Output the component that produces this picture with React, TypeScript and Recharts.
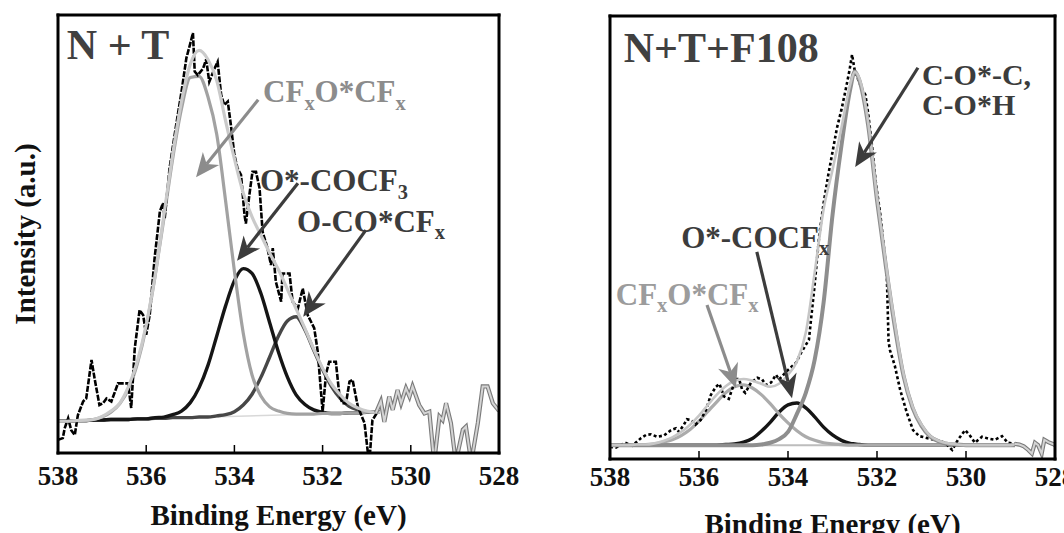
import React from 'react';
import { LineChart, Line, XAxis, YAxis, ReferenceLine, ReferenceDot } from 'recharts';

const SERIF = "'Liberation Serif', 'Times New Roman', Times, serif";

// axis ticks
const energyTicks = [538, 536, 534, 532, 530, 528];
const intensityTicks = [1, 2, 3, 4, 5, 6, 7];

// ---------- N + T (left panel) ----------
const ntFitE = [538, 537.8, 537.6, 537.4, 537.2, 537, 536.8, 536.6, 536.4, 536.2, 536, 535.8, 535.6, 535.4, 535.2, 535, 534.8, 534.6, 534.4, 534.2, 534, 533.8, 533.6, 533.4, 533.2, 533, 532.8, 532.6, 532.4, 532.2, 532, 531.8, 531.6, 531.4, 531.2, 531, 530.8, 530.7];
const ntEnvelope = [1.28, 1.28, 1.29, 1.3, 1.31, 1.36, 1.45, 1.58, 1.86, 2.28, 2.88, 3.7, 4.7, 5.72, 6.6, 7.22, 7.45, 7.3, 6.95, 6.28, 5.65, 5.08, 4.68, 4.38, 4.08, 3.8, 3.48, 3.15, 2.82, 2.48, 2.16, 1.9, 1.72, 1.58, 1.5, 1.45, 1.43, 1.43];
const ntCFxOCFx = [1.28, 1.28, 1.29, 1.29, 1.31, 1.35, 1.43, 1.57, 1.82, 2.24, 2.85, 3.69, 4.65, 5.65, 6.48, 7.0, 7.02, 6.68, 6.05, 4.95, 3.78, 2.75, 2.05, 1.7, 1.52, 1.45, 1.41, 1.4, 1.4, 1.4, 1.41, 1.41, 1.41, 1.42, 1.42, 1.43, 1.43, 1.43];
const ntOCOCF3 = [1.28, 1.28, 1.29, 1.29, 1.3, 1.3, 1.31, 1.31, 1.31, 1.32, 1.32, 1.34, 1.35, 1.39, 1.45, 1.59, 1.84, 2.21, 2.7, 3.2, 3.62, 3.82, 3.74, 3.41, 2.92, 2.43, 2.02, 1.72, 1.56, 1.47, 1.43, 1.41, 1.41, 1.42, 1.42, 1.43, 1.43, 1.43];
const ntOCOCFx = [1.28, 1.28, 1.29, 1.29, 1.3, 1.3, 1.31, 1.31, 1.31, 1.32, 1.32, 1.33, 1.33, 1.34, 1.34, 1.34, 1.35, 1.35, 1.37, 1.39, 1.44, 1.55, 1.73, 2.01, 2.35, 2.7, 2.95, 3.02, 2.8, 2.46, 2.14, 1.86, 1.66, 1.53, 1.47, 1.44, 1.43, 1.43];
const ntBaseE = [538, 530.7];
const ntBaseV = [1.28, 1.43];
const ntRawE = [538.0, 537.89, 537.85, 537.77, 537.7, 537.62, 537.55, 537.43, 537.36, 537.24, 537.17, 537.06, 536.98, 536.9, 536.79, 536.64, 536.53, 536.41, 536.34, 536.26, 536.15, 536.07, 536.0, 535.92, 535.81, 535.69, 535.62, 535.58, 535.47, 535.32, 535.2, 535.09, 535.01, 534.94, 534.9, 534.83, 534.71, 534.64, 534.57, 534.45, 534.38, 534.3, 534.23, 534.15, 534.08, 534.0, 533.93, 533.85, 533.77, 533.74, 533.66, 533.59, 533.51, 533.43, 533.36, 533.25, 533.17, 533.13, 533.06, 532.94, 532.91, 532.75, 532.68, 532.56, 532.45, 532.34, 532.19, 532.11, 532.0, 531.92, 531.85, 531.7, 531.62, 531.55, 531.47, 531.39, 531.32, 531.2, 531.05, 530.98, 530.94, 530.87, 530.75];
const ntRawV = [0.97, 1.0, 1.16, 1.33, 1.13, 1.05, 1.38, 1.61, 1.66, 2.3, 1.99, 1.55, 1.58, 1.66, 1.61, 1.91, 1.91, 1.91, 1.5, 2.49, 3.13, 3.05, 2.72, 3.05, 3.99, 4.77, 4.91, 4.66, 5.49, 6.21, 6.76, 7.32, 7.54, 7.74, 7.1, 7.04, 7.15, 7.3, 6.93, 7.15, 7.26, 6.71, 6.54, 6.6, 6.21, 5.71, 5.49, 5.38, 4.71, 4.57, 5.05, 5.43, 5.43, 5.16, 4.43, 4.16, 3.88, 4.16, 3.6, 3.27, 3.74, 3.74, 3.27, 3.16, 3.49, 3.05, 2.83, 2.44, 1.44, 2.08, 2.27, 2.27, 1.72, 1.58, 1.58, 1.94, 1.97, 1.52, 1.25, 0.8, 0.6, 1.3, 1.44];
const ntTailE = [530.79, 530.68, 530.6, 530.49, 530.41, 530.3, 530.22, 530.11, 530.03, 529.96, 529.81, 529.69, 529.58, 529.47, 529.35, 529.28, 529.2, 529.09, 528.98, 528.82, 528.75, 528.63, 528.48, 528.37, 528.26, 528.14, 528.05, 528.0];
const ntTailV = [1.42, 1.61, 1.27, 1.69, 1.47, 1.8, 1.58, 1.83, 1.69, 1.86, 1.55, 1.41, 1.44, 0.6, 1.36, 1.3, 1.58, 1.25, 0.6, 1.14, 1.19, 0.6, 1.25, 1.86, 1.86, 1.58, 1.5, 1.45];

// ---------- N+T+F108 (right panel) ----------
const ntfFitE = [538, 537.8, 537.6, 537.4, 537.2, 537, 536.8, 536.6, 536.4, 536.2, 536, 535.8, 535.6, 535.4, 535.2, 535, 534.8, 534.6, 534.4, 534.2, 534, 533.8, 533.6, 533.4, 533.2, 533, 532.8, 532.6, 532.5, 532.4, 532.2, 532, 531.8, 531.6, 531.4, 531.2, 531, 530.8, 530.6, 530.4, 530.2, 530, 529, 528.9];
const ntfEnvelope = [0.88, 0.88, 0.88, 0.89, 0.89, 0.91, 0.95, 1.01, 1.1, 1.22, 1.37, 1.55, 1.72, 1.86, 1.95, 1.98, 1.95, 1.9, 1.85, 1.9, 2.05, 2.27, 2.75, 3.75, 4.8, 5.45, 6.15, 6.88, 7.08, 6.98, 6.25, 5.0, 3.9, 2.9, 2.05, 1.52, 1.22, 1.03, 0.95, 0.91, 0.89, 0.88, 0.88, 0.9];
const ntfCOC = [0.88, 0.88, 0.88, 0.88, 0.88, 0.88, 0.88, 0.88, 0.88, 0.88, 0.88, 0.88, 0.88, 0.88, 0.88, 0.88, 0.88, 0.89, 0.92, 0.98, 1.1, 1.4, 1.75, 2.3, 3.25, 4.7, 5.85, 6.8, 7.09, 6.95, 6.2, 4.95, 3.85, 2.85, 2.02, 1.5, 1.2, 1.02, 0.94, 0.9, 0.89, 0.88, 0.88, 0.88];
const ntfCFxOCFx = [0.88, 0.88, 0.88, 0.88, 0.89, 0.9, 0.93, 0.97, 1.04, 1.14, 1.28, 1.44, 1.6, 1.75, 1.85, 1.88, 1.83, 1.72, 1.57, 1.4, 1.25, 1.12, 1.02, 0.96, 0.92, 0.9, 0.89, 0.88, 0.88, 0.88, 0.88, 0.88, 0.88, 0.88, 0.88, 0.88, 0.88, 0.88, 0.88, 0.88, 0.88, 0.88, 0.88, 0.88];
const ntfOCOCFx = [0.88, 0.88, 0.88, 0.88, 0.88, 0.88, 0.88, 0.88, 0.88, 0.88, 0.88, 0.88, 0.88, 0.89, 0.9, 0.93, 0.99, 1.11, 1.26, 1.43, 1.55, 1.58, 1.5, 1.35, 1.18, 1.05, 0.96, 0.91, 0.9, 0.89, 0.88, 0.88, 0.88, 0.88, 0.88, 0.88, 0.88, 0.88, 0.88, 0.88, 0.88, 0.88, 0.88, 0.88];
const ntfBaseE = [538, 529];
const ntfBaseV = [0.88, 0.88];
const ntfRawE = [538.0, 537.87, 537.66, 537.5, 537.3, 537.19, 537.08, 536.94, 536.79, 536.63, 536.52, 536.45, 536.34, 536.27, 536.16, 536.08, 535.96, 535.84, 535.73, 535.62, 535.54, 535.44, 535.33, 535.26, 535.17, 535.1, 535.03, 534.96, 534.83, 534.69, 534.58, 534.5, 534.38, 534.27, 534.2, 534.04, 533.82, 533.71, 533.53, 533.4, 533.3, 533.2, 533.1, 533.0, 532.9, 532.8, 532.7, 532.62, 532.56, 532.5, 532.42, 532.34, 532.26, 532.2, 532.11, 532.02, 531.93, 531.85, 531.78, 531.74, 531.71, 531.6, 531.48, 531.33, 531.19, 531.05, 530.99, 530.77, 530.6, 530.47, 530.31, 530.18, 530.02, 529.92, 529.8, 529.64, 529.5, 529.35, 529.19, 529.06, 528.9];
const ntfRawV = [0.85, 0.84, 0.92, 0.87, 1.0, 1.05, 1.06, 1.02, 1.04, 1.13, 1.16, 1.1, 1.22, 1.31, 1.29, 1.22, 1.3, 1.47, 1.72, 1.85, 1.9, 1.69, 1.65, 1.8, 1.98, 1.98, 1.8, 1.75, 1.92, 2.0, 1.97, 1.88, 1.92, 2.05, 1.97, 2.1, 2.25, 2.41, 2.63, 3.55, 4.35, 4.9, 5.35, 5.75, 6.15, 6.45, 6.8, 7.1, 7.37, 7.1, 6.95, 6.8, 6.7, 6.4, 5.84, 5.2, 4.74, 4.2, 3.72, 2.6, 2.46, 2.2, 1.8, 1.42, 1.13, 1.03, 1.02, 0.98, 0.95, 0.92, 0.8, 0.97, 1.13, 1.05, 0.92, 1.02, 0.99, 0.97, 1.03, 0.92, 0.9];
const ntfTailE = [528.9, 528.8, 528.7, 528.6, 528.52, 528.45, 528.38, 528.3, 528.24, 528.15, 528.05, 528.0];
const ntfTailV = [0.9, 0.89, 0.86, 0.8, 0.74, 0.92, 0.88, 0.74, 0.97, 0.93, 0.9, 0.88];

const toPoints = (xs: number[], ys: number[]) => xs.map((E, i) => ({ E, v: ys[i] }));

type Part = { t: string; sub?: boolean };
type Curve = { id: string; E: number[]; v: number[]; color: string; w: number; dash?: string; smooth?: boolean };
type Note = { E: number; v: number; parts: Part[]; color: string; size: number };
type Arrow = { from: number[]; to: number[]; color: string };

const noteShape = (n: Note) => (p: any) => {
  let low = false;
  const shift = n.size * 0.24;
  return (
    <text x={p.cx} y={p.cy} fill={n.color} fontFamily={SERIF} fontWeight={700} fontSize={n.size}>
      {n.parts.map((part, i) => {
        const dy = part.sub ? (low ? 0 : shift) : low ? -shift : 0;
        low = !!part.sub;
        return (
          <tspan key={i} dy={dy} fontSize={part.sub ? n.size * 0.66 : n.size}>
            {part.t}
          </tspan>
        );
      })}
    </text>
  );
};

const arrowShape = (color: string) => (p: any) => {
  const { x1, y1, x2, y2 } = p;
  const len = Math.hypot(x2 - x1, y2 - y1) || 1;
  const ux = (x2 - x1) / len;
  const uy = (y2 - y1) / len;
  const head = 24;
  const half = 10.5;
  const notch = 17;
  const bx = x2 - ux * head;
  const by = y2 - uy * head;
  const nx = x2 - ux * notch;
  const ny = y2 - uy * notch;
  return (
    <g>
      <line x1={x1} y1={y1} x2={nx} y2={ny} stroke={color} strokeWidth={3.2} />
      <polygon
        points={`${x2},${y2} ${bx - uy * half},${by + ux * half} ${nx},${ny} ${bx + uy * half},${by - ux * half}`}
        fill={color}
      />
    </g>
  );
};

interface PanelProps {
  left: number;
  plotLeft: number;
  rightGap: number;
  top: number;
  axisH: number;
  yDomain: number[];
  curves: Curve[];
  notes: Note[];
  arrows: Arrow[];
  yLabel?: string;
  tickMargin: number;
  xLabelOffset: number;
}

const frame = { stroke: '#000', strokeWidth: 3, strokeLinecap: 'square' as const };
const tickStroke = { stroke: '#000', strokeWidth: 1.5 };

const Panel = ({ left, plotLeft, rightGap, top, axisH, yDomain, curves, notes, arrows, yLabel, tickMargin, xLabelOffset }: PanelProps) => (
  <div style={{ position: 'absolute', left, top: 0 }}>
    <LineChart width={532} height={533} margin={{ top, right: rightGap, left: 0, bottom: 0 }}>
      <XAxis
        xAxisId="e"
        dataKey="E"
        type="number"
        domain={[528, 538]}
        reversed
        allowDataOverflow
        ticks={energyTicks}
        interval={0}
        height={axisH}
        tickSize={-8}
        tickMargin={tickMargin}
        tickLine={tickStroke}
        axisLine={frame}
        tick={{ fontFamily: SERIF, fontWeight: 700, fontSize: 27, fill: '#111' }}
        label={{
          value: 'Binding Energy (eV)',
          position: 'insideBottom',
          offset: xLabelOffset,
          style: { fontFamily: SERIF, fontWeight: 700, fontSize: 29, fill: '#111' },
        }}
      />
      <XAxis
        xAxisId="top"
        orientation="top"
        mirror
        type="number"
        domain={[528, 538]}
        reversed
        allowDataOverflow
        ticks={energyTicks}
        interval={0}
        tick={false}
        tickSize={8}
        tickLine={tickStroke}
        axisLine={frame}
      />
      <YAxis
        yAxisId="i"
        type="number"
        domain={yDomain}
        allowDataOverflow
        ticks={intensityTicks}
        interval={0}
        width={plotLeft}
        tick={false}
        tickSize={-8}
        tickLine={tickStroke}
        axisLine={frame}
        label={
          yLabel
            ? {
                value: yLabel,
                angle: -90,
                position: 'insideLeft',
                offset: 25,
                style: { textAnchor: 'middle', fontFamily: SERIF, fontWeight: 700, fontSize: 29, fill: '#111' },
              }
            : undefined
        }
      />
      <YAxis
        yAxisId="r"
        orientation="right"
        mirror
        type="number"
        domain={yDomain}
        allowDataOverflow
        ticks={intensityTicks}
        interval={0}
        tick={false}
        tickSize={8}
        tickLine={tickStroke}
        axisLine={frame}
      />
      {curves.map((c) => (
        <Line
          key={c.id}
          xAxisId="e"
          yAxisId="i"
          data={toPoints(c.E, c.v)}
          dataKey="v"
          type={c.smooth ? 'monotone' : 'linear'}
          stroke={c.color}
          strokeWidth={c.w}
          strokeDasharray={c.dash}
          dot={false}
          activeDot={false}
          isAnimationActive={false}
        />
      ))}
      {arrows.map((a, i) => (
        <ReferenceLine
          key={`a${i}`}
          xAxisId="e"
          yAxisId="i"
          ifOverflow="visible"
          segment={[
            { x: a.from[0], y: a.from[1] },
            { x: a.to[0], y: a.to[1] },
          ]}
          shape={arrowShape(a.color)}
        />
      ))}
      {notes.map((n, i) => (
        <ReferenceDot key={`n${i}`} xAxisId="e" yAxisId="i" x={n.E} y={n.v} r={0} ifOverflow="visible" shape={noteShape(n)} />
      ))}
    </LineChart>
  </div>
);

const DARK = '#3c3c3c';
const MID = '#8c8c8c';

const ntCurves: Curve[] = [
  { id: 'base', E: ntBaseE, v: ntBaseV, color: '#d8d8d8', w: 1.5 },
  { id: 'ococfx', E: ntFitE, v: ntOCOCFx, color: '#474747', w: 3.4, smooth: true },
  { id: 'ococf3', E: ntFitE, v: ntOCOCF3, color: '#151515', w: 3.4, smooth: true },
  { id: 'cfx', E: ntFitE, v: ntCFxOCFx, color: '#a2a2a2', w: 3.2, smooth: true },
  { id: 'raw', E: ntRawE, v: ntRawV, color: '#000', w: 2.6, dash: '6 1.5' },
  { id: 'env', E: ntFitE, v: ntEnvelope, color: '#cacaca', w: 3.2, smooth: true },
  { id: 'tailEdge', E: ntTailE, v: ntTailV, color: '#7a7a7a', w: 4.2 },
  { id: 'tail', E: ntTailE, v: ntTailV, color: '#d4d4d4', w: 2 },
];

const ntNotes: Note[] = [
  { E: 537.8, v: 7.3, parts: [{ t: 'N + T' }], color: '#404040', size: 42 },
  { E: 533.35, v: 6.59, parts: [{ t: 'CF' }, { t: 'x', sub: true }, { t: 'O*CF' }, { t: 'x', sub: true }], color: MID, size: 31 },
  { E: 533.42, v: 5.11, parts: [{ t: 'O*-COCF' }, { t: '3', sub: true }], color: DARK, size: 31 },
  { E: 532.58, v: 4.43, parts: [{ t: 'O-CO*CF' }, { t: 'x', sub: true }], color: DARK, size: 31 },
];

const ntArrows: Arrow[] = [
  { from: [533.46, 6.63], to: [534.87, 5.34], color: MID },
  { from: [532.56, 5.24], to: [533.94, 3.95], color: DARK },
  { from: [531.02, 4.46], to: [532.44, 3.02], color: DARK },
];

const ntfCurves: Curve[] = [
  { id: 'base', E: ntfBaseE, v: ntfBaseV, color: '#bdbdbd', w: 2 },
  { id: 'ococfx', E: ntfFitE, v: ntfOCOCFx, color: '#151515', w: 3.4, smooth: true },
  { id: 'cfx', E: ntfFitE, v: ntfCFxOCFx, color: '#ababab', w: 3.2, smooth: true },
  { id: 'raw', E: ntfRawE, v: ntfRawV, color: '#000', w: 2.6, dash: '3 2.5' },
  { id: 'coc', E: ntfFitE, v: ntfCOC, color: '#8e8e8e', w: 4, smooth: true },
  { id: 'env', E: ntfFitE, v: ntfEnvelope, color: '#c6c6c6', w: 2.6, smooth: true },
  { id: 'tailEdge', E: ntfTailE, v: ntfTailV, color: '#7a7a7a', w: 4.2 },
  { id: 'tail', E: ntfTailE, v: ntfTailV, color: '#d4d4d4', w: 2 },
];

const ntfNotes: Note[] = [
  { E: 537.69, v: 7.25, parts: [{ t: 'N+T+F108' }], color: '#404040', size: 42 },
  { E: 530.99, v: 6.87, parts: [{ t: 'C-O*-C,' }], color: DARK, size: 30 },
  { E: 530.99, v: 6.37, parts: [{ t: 'C-O*H' }], color: DARK, size: 30 },
  { E: 536.4, v: 4.16, parts: [{ t: 'O*-COCF' }, { t: 'x', sub: true }], color: DARK, size: 31 },
  { E: 537.87, v: 3.21, parts: [{ t: 'CF' }, { t: 'x', sub: true }, { t: 'O*CF' }, { t: 'x', sub: true }], color: '#9c9c9c', size: 31 },
];

const ntfArrows: Arrow[] = [
  { from: [531.08, 7.15], to: [532.49, 5.5], color: DARK },
  { from: [534.7, 4.09], to: [533.91, 1.66], color: DARK },
  { from: [535.82, 3.21], to: [535.17, 1.83], color: MID },
];

export default function App() {
  return (
    <div style={{ position: 'absolute', left: 0, top: 0, width: 1064, height: 533, background: '#fff', overflow: 'hidden' }}>
      <Panel
        left={0}
        plotLeft={58}
        rightGap={33}
        top={15}
        axisH={80}
        yDomain={[0.752, 8.04]}
        curves={ntCurves}
        notes={ntNotes}
        arrows={ntArrows}
        yLabel="Intensity (a.u.)"
        tickMargin={21}
        xLabelOffset={8}
      />
      <Panel
        left={532}
        plotLeft={78}
        rightGap={9}
        top={16}
        axisH={74}
        yDomain={[0.65, 8.01]}
        curves={ntfCurves}
        notes={ntfNotes}
        arrows={ntfArrows}
        tickMargin={16}
        xLabelOffset={-1}
      />
    </div>
  );
}
